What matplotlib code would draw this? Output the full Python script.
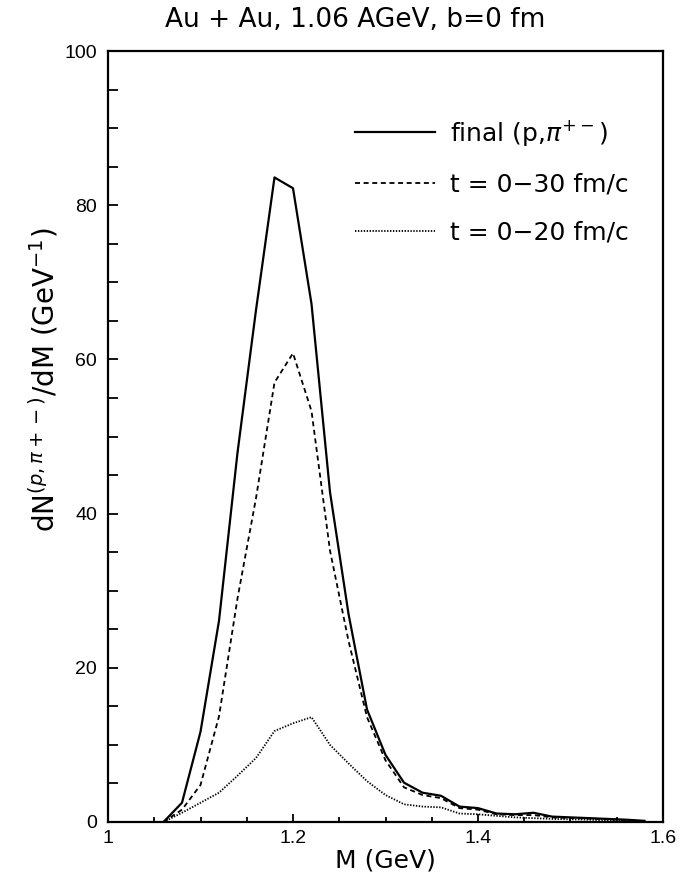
import matplotlib
matplotlib.use("Agg")
import matplotlib.pyplot as plt
from matplotlib.ticker import MultipleLocator

plt.rcParams['lines.scale_dashes'] = False
plt.rcParams['mathtext.fontset'] = 'dejavusans'

mass = [1.06, 1.08, 1.10, 1.12, 1.14, 1.16, 1.18, 1.20, 1.22, 1.24, 1.26, 1.28,
        1.30, 1.32, 1.34, 1.36, 1.38, 1.40, 1.42, 1.44, 1.46, 1.48, 1.50, 1.52,
        1.54, 1.56, 1.58]
final = [0.0, 2.5, 11.7, 26.1, 47.9, 66.4, 83.6, 82.2, 67.2, 42.8, 27.0, 14.6,
         8.7, 5.1, 3.8, 3.4, 2.0, 1.8, 1.1, 1.0, 1.2, 0.7, 0.6, 0.5,
         0.4, 0.3, 0.15]
t30 = [0.0, 1.6, 4.8, 13.7, 29.0, 42.0, 57.0, 60.8, 53.3, 35.2, 23.5, 13.6,
       8.0, 4.5, 3.5, 3.1, 1.8, 1.6, 1.0, 0.9, 0.9, 0.6, 0.5, 0.45,
       0.35, 0.25, 0.1]
t20 = [0.0, 1.2, 2.5, 3.8, 6.0, 8.3, 11.8, 12.8, 13.6, 10.0, 7.6, 5.3,
       3.5, 2.3, 2.0, 1.9, 1.1, 1.0, 0.8, 0.6, 0.5, 0.4, 0.35, 0.3,
       0.2, 0.1, 0.05]

labels = [r"final (p,$\pi^{+-}$)", "t = 0\u221230 fm/c", "t = 0\u221220 fm/c"]

fig = plt.figure(figsize=(6.99, 8.82), dpi=100)
ax = fig.add_axes([108/699, 1-822/882, (663-108)/699, (822-51)/882])

ax.plot(mass, final, color='black', lw=1.6, label=labels[0])
ax.plot(mass, t30, color='black', lw=1.3, linestyle=(0, (3.6, 2.6)), label=labels[1])
ax.plot(mass, t20, color='black', lw=1.3, linestyle=(0, (1.0, 1.1)), label=labels[2])

ax.set_xlim(1.0, 1.6)
ax.set_ylim(0, 100)
ax.xaxis.set_major_locator(MultipleLocator(0.2))
ax.xaxis.set_minor_locator(MultipleLocator(0.05))
ax.yaxis.set_major_locator(MultipleLocator(20))
ax.yaxis.set_minor_locator(MultipleLocator(5))
ax.set_xticks([1.0, 1.2, 1.4, 1.6])
ax.set_xticklabels(["1", "1.2", "1.4", "1.6"])

ax.tick_params(axis='x', which='major', direction='in', length=6, width=1.3,
               labelsize=14, pad=6)
ax.tick_params(axis='x', which='minor', direction='in', length=3.5, width=1.3)
ax.tick_params(axis='y', which='both', direction='in', length=7, width=1.3,
               labelsize=14, pad=8)
for lab in ax.get_xticklabels() + ax.get_yticklabels():
    lab.set_family('Liberation Sans')
for sp in ax.spines.values():
    sp.set_linewidth(1.6)

ax.set_xlabel("M (GeV)", fontsize=18, labelpad=1)
ax.set_ylabel(r"dN$^{(p,\pi+-)}$/dM (GeV$^{-1}$)", fontsize=20)
ax.yaxis.set_label_coords(-0.085, 0.573)
fig.text(355/699, 1-20/882, "Au + Au, 1.06 AGeV, b=0 fm", fontsize=19,
         ha='center', va='center')

leg = ax.legend(loc='center left', bbox_to_anchor=(0.445, 0.831), frameon=False,
                fontsize=18, handlelength=3.2, handletextpad=0.6,
                labelspacing=0.98, borderaxespad=0, borderpad=0)

fig.savefig("out.png", dpi=100)
